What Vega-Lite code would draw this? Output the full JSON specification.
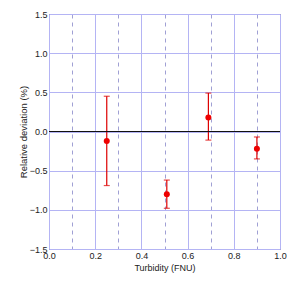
{
  "$schema": "https://vega.github.io/schema/vega-lite/v6.json",
  "width": 231,
  "height": 235,
  "autosize": "none",
  "padding": {"left": 49, "top": 14, "right": 24, "bottom": 41},
  "background": "white",
  "config": {
    "view": {"stroke": "#555555", "strokeWidth": 1},
    "axis": {
      "labelFont": "Liberation Sans",
      "titleFont": "Liberation Sans",
      "labelFontSize": 9,
      "titleFontSize": 9,
      "titleFontWeight": "normal",
      "labelColor": "#222222",
      "titleColor": "#222222",
      "labelFlush": false,
      "labelOverlap": false
    }
  },
  "data": {
    "values": [
      {"turbidity": 0.25, "deviation": -0.12, "lo": -0.69, "hi": 0.45},
      {"turbidity": 0.51, "deviation": -0.80, "lo": -0.98, "hi": -0.62},
      {"turbidity": 0.69, "deviation": 0.18, "lo": -0.11, "hi": 0.49},
      {"turbidity": 0.90, "deviation": -0.22, "lo": -0.35, "hi": -0.07}
    ]
  },
  "layer": [
    {
      "mark": {"type": "rule", "color": "#dd0000", "strokeWidth": 1.2},
      "encoding": {
        "x": {
          "field": "turbidity", "type": "quantitative",
          "scale": {"domain": [0, 1], "nice": false, "padding": 0, "zero": false},
          "axis": {
            "orient": "bottom",
            "values": [0, 0.1, 0.2, 0.3, 0.4, 0.5, 0.6, 0.7, 0.8, 0.9, 1],
            "tickCount": 30,
            "labelExpr": "round(datum.value * 10) % 2 == 0 ? format(datum.value, '.1f') : ''",
            "grid": true,
            "gridColor": {"condition": {"test": "round(datum.value * 10) % 2 == 1", "value": "#a0a0d4"}, "value": "#b4b4f4"},
            "gridDash": {"condition": {"test": "round(datum.value * 10) % 2 == 1", "value": [4, 4]}, "value": []},
            "gridWidth": 1,
            "domain": false, "ticks": false, "labelPadding": 2,
            "title": "Turbidity (FNU)", "titlePadding": 3
          }
        },
        "y": {
          "field": "lo", "type": "quantitative",
          "scale": {"domain": [-1.5, 1.5], "nice": false, "padding": 0},
          "axis": {"orient": "left", "values": [-1.5, -1, -0.5, 0, 0.5, 1, 1.5], "tickCount": 30, "format": ".1f", "grid": true, "gridColor": "#b4b4f4", "gridWidth": 1, "domain": false, "ticks": false, "labelPadding": 2, "title": "Relative deviation (%)", "titleFontSize": 9.5, "titlePadding": 1}
        },
        "y2": {"field": "hi"}
      }
    },
    {
      "mark": {"type": "tick", "color": "#dd0000", "size": 6, "thickness": 1.2, "orient": "horizontal"},
      "encoding": {
        "x": {"field": "turbidity", "type": "quantitative"},
        "y": {"field": "lo", "type": "quantitative"}
      }
    },
    {
      "mark": {"type": "tick", "color": "#dd0000", "size": 6, "thickness": 1.2, "orient": "horizontal"},
      "encoding": {
        "x": {"field": "turbidity", "type": "quantitative"},
        "y": {"field": "hi", "type": "quantitative"}
      }
    },
    {
      "mark": {"type": "rule", "color": "#111111", "strokeWidth": 1.2},
      "encoding": {"y": {"datum": 0, "type": "quantitative"}}
    },
    {
      "mark": {"type": "point", "filled": true, "color": "#ee0000", "size": 36, "opacity": 1},
      "encoding": {
        "x": {"field": "turbidity", "type": "quantitative"},
        "y": {"field": "deviation", "type": "quantitative"}
      }
    }
  ]
}
